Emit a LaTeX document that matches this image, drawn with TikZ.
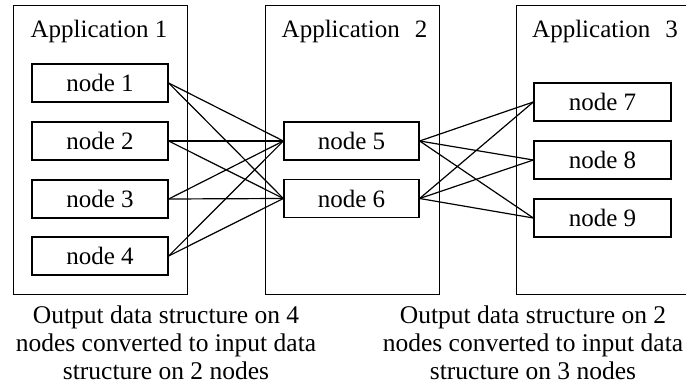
\documentclass[tikz,border=0pt]{standalone}
\usepackage{fontspec}
\setmainfont{Liberation Serif}
\begin{document}
\begin{tikzpicture}[x=1pt,y=-1pt,
  appbox/.style={draw,line width=1.3pt,anchor=north west,inner sep=0pt},
  nodebox/.style={draw,line width=1.3pt,minimum width=136pt,minimum height=38pt,inner sep=0pt,
    font=\fontsize{25}{30}\selectfont},
  apptitle/.style={anchor=base,inner sep=0pt,font=\fontsize{25}{30}\selectfont},
  caption/.style={anchor=north,inner sep=0pt,align=center,font=\fontsize{25.5}{28}\selectfont},
  link/.style={line width=1.2pt}]
\clip (0,0) rectangle (686,387);
\fill[white] (0,0) rectangle (686,387);

% application frames
\node[appbox,minimum width=174pt,minimum height=289pt] (app1) at (13,5) {};
\node[appbox,minimum width=174pt,minimum height=289pt] (app2) at (265,5) {};
\node[appbox,minimum width=174pt,minimum height=289pt] (app3) at (516,5) {};

\node[apptitle] (t1) at (99,38) {Application 1};
\node[apptitle] (t2) at (354.5,38) {Application\hspace{0.6em}2};
\node[apptitle] (t3) at (605,38) {Application\hspace{0.6em}3};

% nodes of each application
\node[nodebox] (n1) at (100,83) {node 1};
\node[nodebox] (n2) at (100,141) {node 2};
\node[nodebox] (n3) at (100,199) {node 3};
\node[nodebox] (n4) at (100,256) {node 4};

\node[nodebox,minimum width=135pt] (n5) at (351.5,141) {node 5};
\node[nodebox,minimum width=135pt] (n6) at (351.5,198.5) {node 6};

\node[nodebox,minimum width=137pt] (n7) at (602.5,102) {node 7};
\node[nodebox,minimum width=137pt] (n8) at (602.5,160) {node 8};
\node[nodebox,minimum width=137pt] (n9) at (602.5,218) {node 9};

% data redistribution links
\foreach \s in {n1,n2,n3,n4}
  \foreach \d in {n5,n6}
    \draw[link] (\s.east) -- (\d.west);
\foreach \s in {n5,n6}
  \foreach \d in {n7,n8,n9}
    \draw[link] (\s.east) -- (\d.west);

% captions
\node[caption] (c1) at (166,305.5) {Output data structure on 4\\nodes converted to input data\\structure on 2 nodes};
\node[caption] (c2) at (533,305.5) {Output data structure on 2\\nodes converted to input data\\structure on 3 nodes};
\end{tikzpicture}
\end{document}
